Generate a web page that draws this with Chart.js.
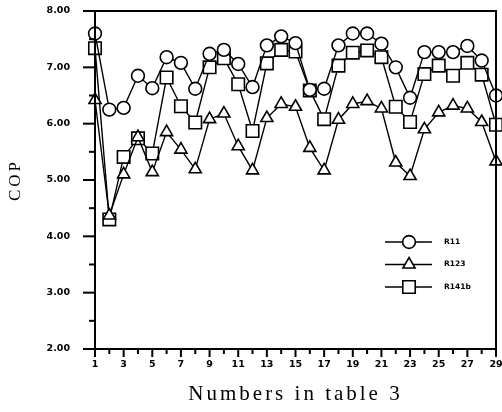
<!DOCTYPE html>
<html>
<head>
<meta charset="utf-8">
<script src="https://cdn.jsdelivr.net/npm/chart.js@4/dist/chart.umd.min.js"></script>
<style>
html,body{margin:0;padding:0;background:#fff;}
#wrap{width:502px;height:412px;position:relative;}
</style>
</head>
<body>
<div id="wrap"><canvas id="c" width="502" height="412"></canvas></div>
<script>
// ---- data ----
const categories = [1,2,3,4,5,6,7,8,9,10,11,12,13,14,15,16,17,18,19,20,21,22,23,24,25,26,27,28,29];
const r11   = [7.60,6.25,6.28,6.85,6.63,7.18,7.08,6.62,7.24,7.31,7.06,6.65,7.39,7.55,7.43,6.60,6.62,7.39,7.60,7.60,7.42,7.00,6.46,7.27,7.27,7.27,7.38,7.12,6.50];
const r123  = [6.42,4.37,5.10,5.76,5.14,5.85,5.54,5.19,6.08,6.18,5.60,5.17,6.10,6.35,6.30,5.57,5.17,6.07,6.35,6.40,6.27,5.31,5.07,5.90,6.20,6.32,6.27,6.03,5.33];
const r141b = [7.34,4.30,5.41,5.74,5.47,6.82,6.31,6.02,7.00,7.16,6.70,5.87,7.07,7.31,7.28,6.59,6.08,7.03,7.26,7.30,7.18,6.30,6.03,6.88,7.03,6.85,7.08,6.87,5.98];
const seriesNames = ['R11','R123','R141b'];
const seriesMarkers = ['circle','triangle','rect'];
const yTickLabels = [2,3,4,5,6,7,8];
const xTitle = 'Numbers in table 3';
const yTitle = 'COP';

const tickFont = {family:'"DejaVu Sans", sans-serif', size:9.5, weight:'bold'};
const titleFontX = {family:'"Liberation Serif", "Times New Roman", serif', size:21};
const titleFontY = {family:'"Liberation Serif", "Times New Roman", serif', size:17};

const spacedTitles = {
  id:'spacedTitles',
  beforeDraw(chart){
    [['x','3px'],['y','3px']].forEach(([id, sp]) => {
      const sc = chart.scales[id];
      if (sc._spaced) return;
      const orig = sc.drawTitle;
      sc.drawTitle = function(){
        this.ctx.save();
        this.ctx.letterSpacing = sp;
        orig.apply(this, arguments);
        this.ctx.restore();
      };
      sc._spaced = true;
    });
  }
};

const frameAndTicks = {
  id:'frameAndTicks',
  afterDraw(chart){
    const ctx = chart.ctx, a = chart.chartArea;
    const xs = chart.scales.x, ys = chart.scales.y;
    ctx.save();
    ctx.strokeStyle = '#000';
    ctx.lineWidth = 2;
    ctx.beginPath();
    ctx.rect(a.left, a.top, a.right - a.left, a.bottom - a.top);
    ctx.stroke();
    for (let v = ys.min; v <= ys.max + 1e-9; v += 0.5) {
      const py = ys.getPixelForValue(v);
      const major = yTickLabels.includes(Math.round(v*2)/2);
      ctx.beginPath();
      ctx.moveTo(a.left - (major ? 12 : 6), py);
      ctx.lineTo(a.left, py);
      ctx.stroke();
    }
    categories.forEach((c, i) => {
      const px = xs.getPixelForValue(i);
      const major = c % 2 === 1;
      ctx.beginPath();
      ctx.moveTo(px, a.bottom);
      ctx.lineTo(px, a.bottom + (major ? 8 : 5));
      ctx.stroke();
    });
    ctx.restore();
  }
};

const legendPlugin = {
  id:'customLegend',
  afterDatasetsDraw(chart){
    const ctx = chart.ctx;
    ctx.save();
    chart.data.datasets.forEach((ds, i) => {
      const y = 242 + i * 22.5;
      ctx.strokeStyle = '#000';
      ctx.lineWidth = 1.3;
      ctx.beginPath();
      ctx.moveTo(385, y); ctx.lineTo(432, y);
      ctx.stroke();
      ctx.fillStyle = '#fff';
      ctx.lineWidth = ds.pointBorderWidth;
      Chart.helpers.drawPoint(ctx, {
        pointStyle: ds.pointStyle, radius: ds.pointRadius, borderWidth: ds.pointBorderWidth
      }, 409, y);
      ctx.fillStyle = '#000';
      ctx.font = 'bold 7.5px "DejaVu Sans", sans-serif';
      ctx.textBaseline = 'middle';
      ctx.fillText(ds.label, 444, y);
    });
    ctx.restore();
  }
};

const markerSize = {circle:6.4, triangle:7, rect:8.8};
const mkDs = (label, data, style) => ({
  label, data,
  borderColor:'#000', borderWidth:1.4,
  pointStyle: style, pointRadius: markerSize[style],
  pointBackgroundColor:'#fff', pointBorderColor:'#000', pointBorderWidth:1.6,
  tension:0, fill:false, clip:false
});

new Chart(document.getElementById('c'), {
  type:'line',
  data:{
    labels: categories,
    datasets:[
      mkDs(seriesNames[0], r11, seriesMarkers[0]),
      mkDs(seriesNames[1], r123, seriesMarkers[1]),
      mkDs(seriesNames[2], r141b, seriesMarkers[2])
    ]
  },
  options:{
    responsive:false, animation:false, devicePixelRatio:1,
    layout:{autoPadding:false, padding:{top:11, right:6, left:0, bottom:0}},
    plugins:{legend:{display:false}, tooltip:{enabled:false}},
    scales:{
      x:{
        type:'category', offset:false,
        grid:{display:false, drawTicks:false},
        border:{display:false},
        ticks:{autoSkip:false, maxRotation:0, color:'#000', font:tickFont, padding:10,
          callback:(v,i)=> categories[i] % 2 === 1 ? String(categories[i]) : ''},
        title:{display:true, text:xTitle, color:'#000', font:titleFontX, padding:{top:0, bottom:5}},
        afterFit:s=>{ s.height = 63; s.paddingRight = 0; s.paddingLeft = 0; }
      },
      y:{
        min:2, max:8,
        grid:{display:false, drawTicks:false},
        border:{display:false},
        ticks:{stepSize:0.5, autoSkip:false, color:'#000', font:tickFont, padding:25,
          callback:v=> yTickLabels.includes(v) ? v.toFixed(2) : ''},
        title:{display:true, text:yTitle, color:'#000', font:titleFontY, padding:{top:5, bottom:0}},
        afterFit:s=>{ s.width = 95; s.paddingTop = 0; s.paddingBottom = 0; }
      }
    }
  },
  plugins:[spacedTitles, frameAndTicks, legendPlugin]
});
</script>
</body>
</html>
